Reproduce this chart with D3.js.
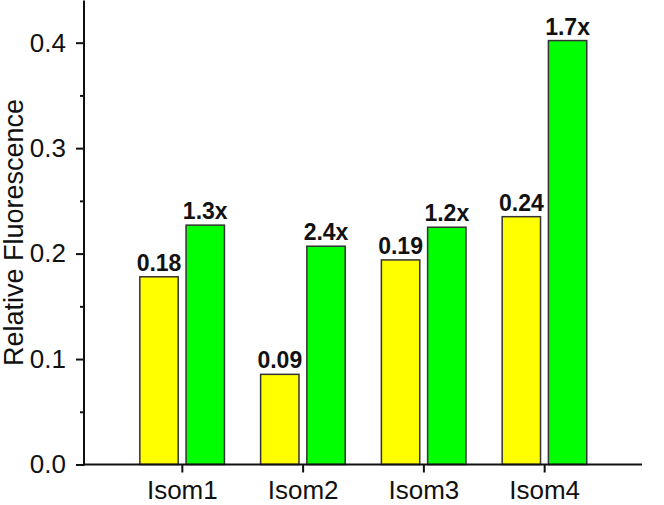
<!DOCTYPE html>
<html>
<head>
<meta charset="utf-8">
<script src="https://cdn.jsdelivr.net/npm/d3@7"></script>
<style>
  body { margin: 0; background: #fff; }
  text { font-family: Arial, "Liberation Sans", sans-serif; }
</style>
</head>
<body>
<svg id="chart" width="664" height="505"></svg>
<script>
const categories = ['Isom1', 'Isom2', 'Isom3', 'Isom4']
const controlValues = [0.178, 0.0855, 0.194, 0.235]
const treatedValues = [0.227, 0.207, 0.225, 0.402]
const controlLabels = ['0.18', '0.09', '0.19', '0.24']
const treatedLabels = ['1.3x', '2.4x', '1.2x', '1.7x']
const yTicks = [0, 0.1, 0.2, 0.3, 0.4]
const yMinorTicks = [0.05, 0.15, 0.25, 0.35]

const svg = d3.select('#chart')

const x = d3.scalePoint().domain(categories).range([84, 642]).padding(0.81)
const sub = d3.scaleBand().domain(['control', 'treated']).range([-42, 42.6]).paddingInner(0.17)
const y = d3.scaleLinear().domain([0, 0.44]).range([464.5, 0.5])

const rows = categories.map((c, i) => ({
  cat: c,
  control: controlValues[i],
  treated: treatedValues[i],
  controlLabel: controlLabels[i],
  treatedLabel: treatedLabels[i]
}))

const series = [
  { key: 'control', label: 'controlLabel', fill: '#ffff00' },
  { key: 'treated', label: 'treatedLabel', fill: '#00ff00' }
]

// bars
series.forEach(s => {
  svg.append('g')
    .selectAll('rect')
    .data(rows)
    .join('rect')
    .attr('x', d => x(d.cat) + sub(s.key))
    .attr('y', d => y(d[s.key]))
    .attr('width', sub.bandwidth())
    .attr('height', d => y(0) - y(d[s.key]))
    .attr('fill', s.fill)
    .attr('stroke', '#333')
    .attr('stroke-width', 1.5)

  svg.append('g')
    .selectAll('text')
    .data(rows)
    .join('text')
    .attr('x', d => x(d.cat) + sub(s.key) + sub.bandwidth() / 2)
    .attr('y', d => y(d[s.key]) - 6)
    .attr('text-anchor', 'middle')
    .attr('font-weight', 'bold')
    .attr('font-size', 23)
    .attr('fill', '#111')
    .text(d => d[s.label])
})

// y axis
const yAxis = svg.append('g')
  .attr('transform', 'translate(84,0)')
  .call(d3.axisLeft(y).tickValues(yTicks).tickFormat(d3.format('.1f')).tickSize(8).tickPadding(10))
yAxis.select('.domain').remove()
yAxis.selectAll('line').attr('stroke', '#111').attr('stroke-width', 2)
yAxis.selectAll('text').attr('font-size', 26).attr('fill', '#111').attr('font-family', 'Arial, "Liberation Sans", sans-serif')

svg.append('g')
  .attr('transform', 'translate(84,0)')
  .call(d3.axisLeft(y).tickValues(yMinorTicks).tickFormat('').tickSize(4))
  .call(g => g.select('.domain').remove())
  .selectAll('line').attr('stroke', '#111').attr('stroke-width', 2)

// x axis
const xAxis = svg.append('g')
  .attr('transform', `translate(0,${y(0)})`)
  .call(d3.axisBottom(x).tickSize(8).tickPadding(8))
xAxis.select('.domain').remove()
xAxis.selectAll('line').attr('stroke', '#111').attr('stroke-width', 2)
xAxis.selectAll('text').attr('font-size', 26).attr('fill', '#111').attr('font-family', 'Arial, "Liberation Sans", sans-serif')

// axis lines
svg.append('line')
  .attr('x1', 84).attr('x2', 84)
  .attr('y1', y(0.44)).attr('y2', y(0) + 1)
  .attr('stroke', '#111').attr('stroke-width', 2)
svg.append('line')
  .attr('x1', 83).attr('x2', 642)
  .attr('y1', y(0)).attr('y2', y(0))
  .attr('stroke', '#111').attr('stroke-width', 2)

// y title
svg.append('text')
  .attr('transform', `translate(23,${y(0.22)}) rotate(-90)`)
  .attr('text-anchor', 'middle')
  .attr('font-size', 27)
  .attr('fill', '#111')
  .text('Relative Fluorescence')
</script>
</body>
</html>
